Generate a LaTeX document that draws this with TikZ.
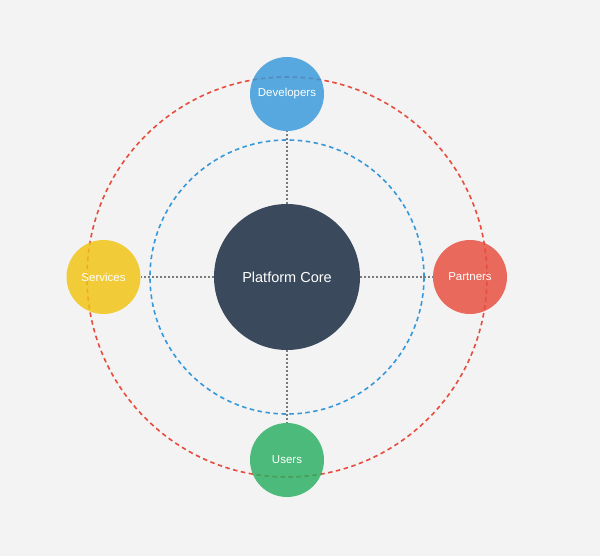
\documentclass[tikz,border=0pt]{standalone}
\usepackage{fontspec}
\setmainfont{Liberation Sans}
\definecolor{bgc}{HTML}{F3F3F3}
\definecolor{corec}{HTML}{3A4A5C}
\definecolor{devc}{HTML}{3498DB}
\definecolor{srvc}{HTML}{F1C40F}
\definecolor{parc}{HTML}{E74C3C}
\definecolor{usrc}{HTML}{27AE60}
\definecolor{connc}{HTML}{777B80}
\begin{document}
\begin{tikzpicture}[x=1pt,y=-1pt,
  ring/.style={line width=1.6pt, dash pattern=on 4.5pt off 3.5pt},
  conn/.style={connc, line width=1.3pt, dash pattern=on 2pt off 2pt},
  sat/.style={circle, inner sep=0pt, minimum size=74pt, fill opacity=0.82, text opacity=1, text=white, font=\fontsize{11.5}{14}\selectfont},
  corenode/.style={circle, inner sep=0pt, minimum size=146pt, fill=corec, text=white, font=\fontsize{14.5}{17}\selectfont}]
\fill[bgc] (0,0) rectangle (600,556);
\useasboundingbox (0,0) rectangle (600,556);
\coordinate (c) at (287,277);
\draw[ring, parc] (c) circle[radius=200pt];
\draw[ring, devc] (c) circle[radius=137pt];
\node[corenode] (core) at (c) {Platform Core};
\node[sat, fill=devc] (dev) at (287,94) {Developers};
\node[sat, fill=srvc] (srv) at (103.5,277) {Services};
\node[sat, fill=parc] (par) at (470,277) {Partners};
\node[sat, fill=usrc] (usr) at (287,460) {Users};
\draw[conn] (core) -- (dev);
\draw[conn] (core) -- (srv);
\draw[conn] (core) -- (par);
\draw[conn] (core) -- (usr);
\end{tikzpicture}
\end{document}
